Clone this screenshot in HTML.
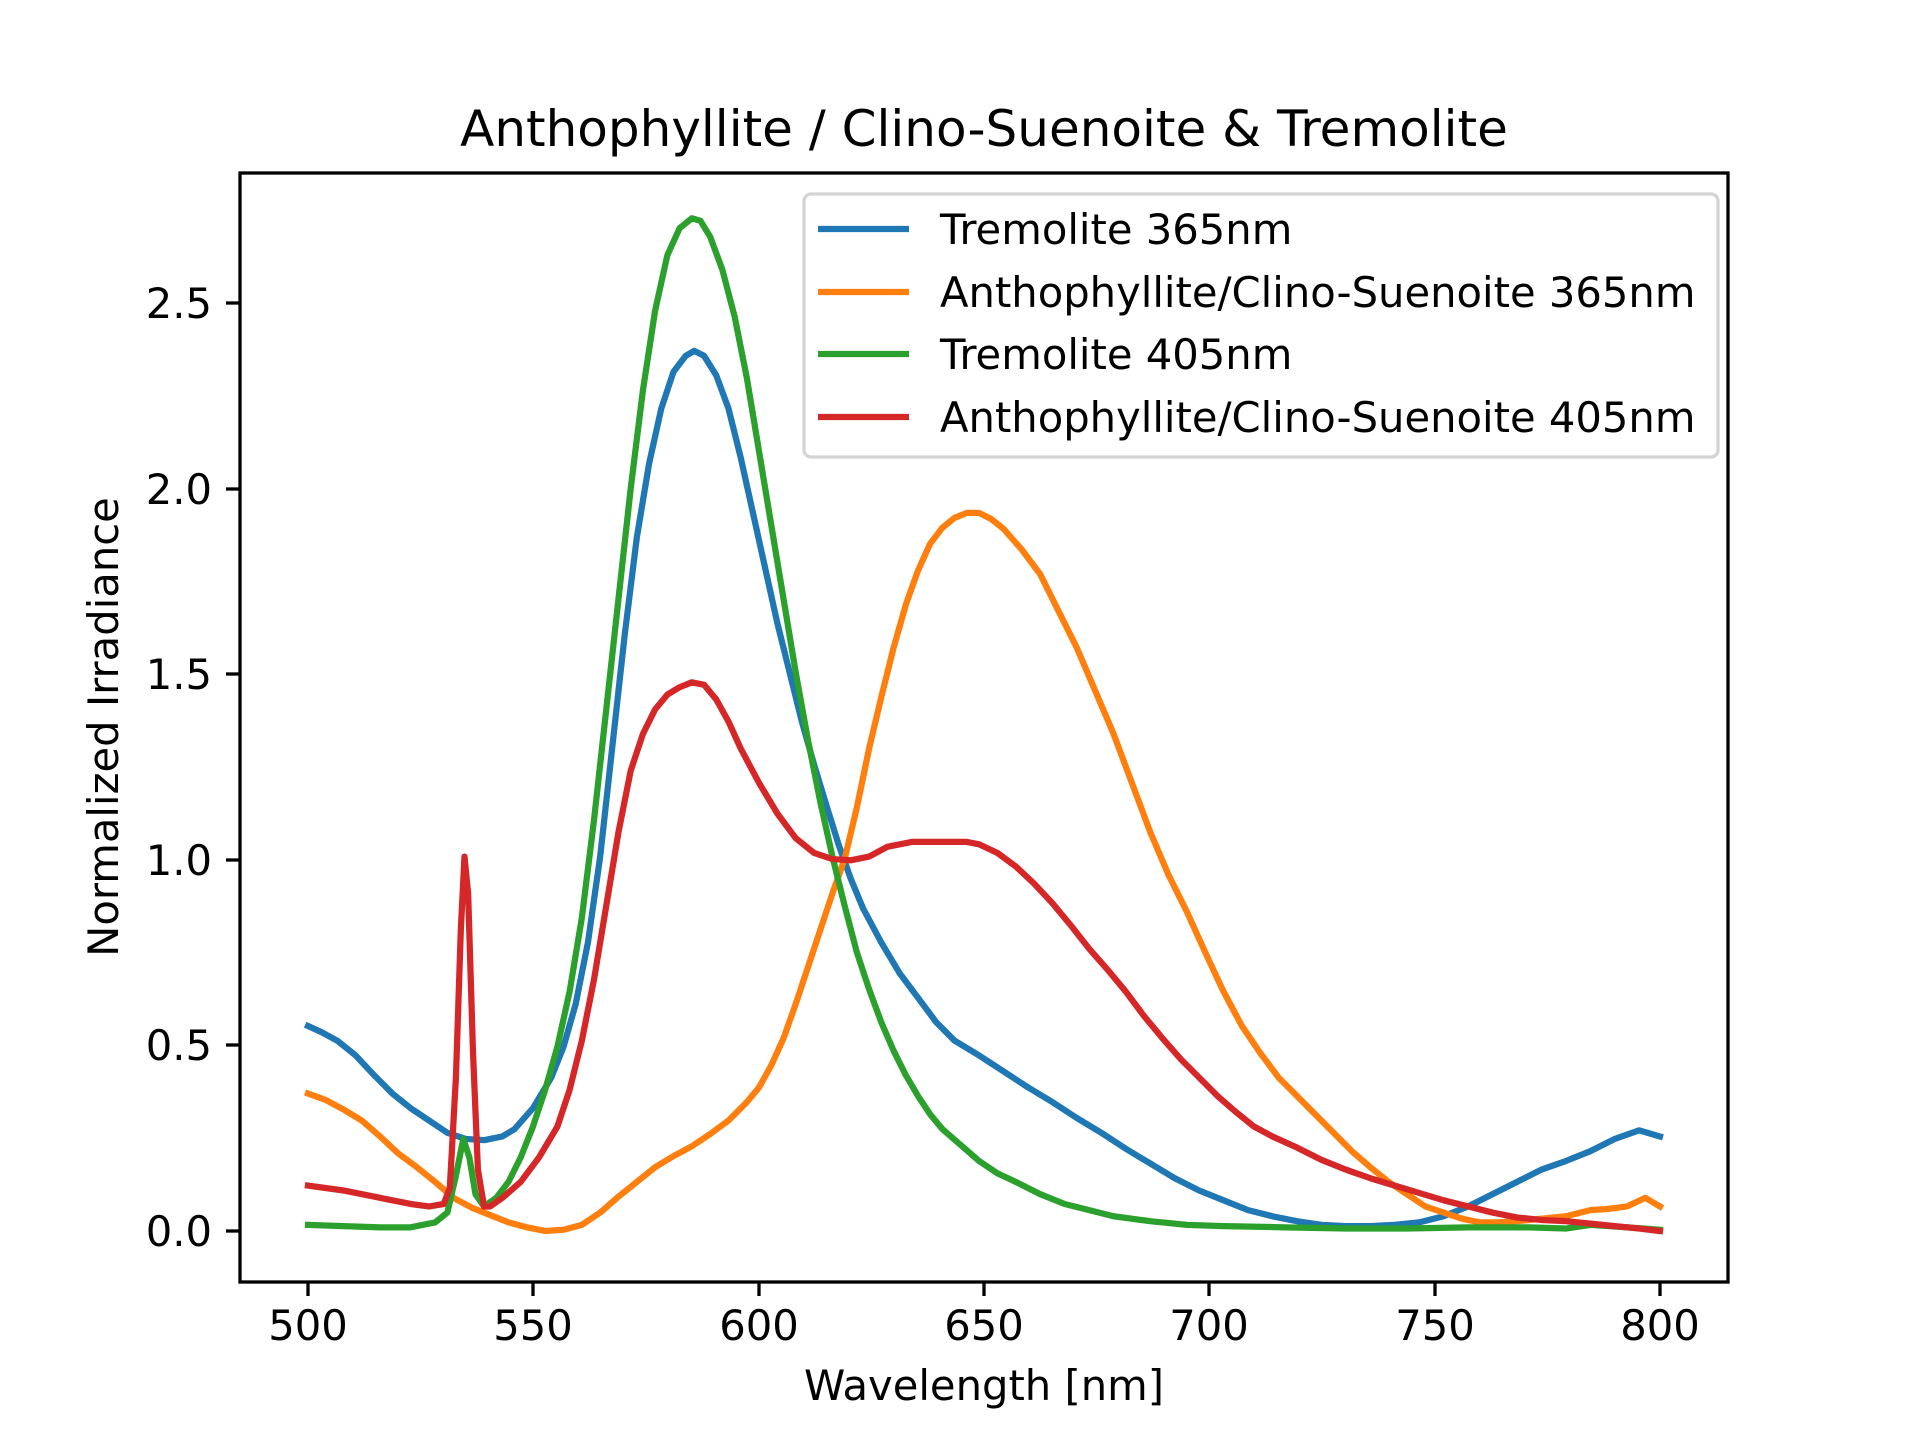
<!DOCTYPE html>
<html><head><meta charset="utf-8"><style>html,body{margin:0;padding:0;background:#fff}</style></head>
<body>
<svg width="1920" height="1440" viewBox="0 0 1920 1440" xmlns="http://www.w3.org/2000/svg" font-family="'DejaVu Sans','Liberation Sans',sans-serif">
<rect width="1920" height="1440" fill="#fff"/>
<g fill="none" stroke-width="6.25" stroke-linejoin="round" stroke-linecap="square">
<g transform="matrix(1.2224 0 0 1.2275 1.18 -2.64)">
<polyline vector-effect="non-scaling-stroke" stroke="#1f77b4" points="251,838 262,843 275,850 290,862 305,878 320,893 335,905 350,915 365,925 380,930 395,931 410,928 420,922 435,905 450,880 460,855 470,820 480,770 490,700 500,610 510,520 520,440 530,380 540,335 550,305 560,292 567,288 575,292 585,308 595,335 605,375 615,420 625,465 635,510 645,550 655,590 665,625 675,658 685,690 695,718 705,742 720,770 735,795 750,815 765,835 780,850 800,862 820,875 840,888 860,900 880,913 900,925 920,938 940,950 960,962 980,972 1000,980 1020,988 1040,993 1060,997 1080,1000 1100,1001 1120,1001 1140,1000 1160,998 1180,993 1200,985 1220,975 1240,965 1260,955 1280,948 1300,940 1320,930 1340,923 1357,928"/>
<polyline vector-effect="non-scaling-stroke" stroke="#ff7f0e" points="251,893 265,898 280,906 295,915 310,928 325,942 340,953 355,965 370,978 385,986 400,992 415,998 430,1002 445,1005 460,1004 475,1000 490,990 505,977 520,965 535,953 550,944 565,936 580,926 595,915 610,900 620,888 630,870 640,848 650,820 660,790 670,760 680,730 690,702 700,660 710,612 720,570 730,530 740,495 750,467 760,445 770,432 780,424 790,420 800,420 810,425 820,433 835,450 850,470 865,500 880,530 895,565 910,600 925,640 940,680 955,715 970,745 985,778 1000,810 1015,838 1030,860 1045,880 1060,895 1075,910 1090,925 1105,940 1120,953 1135,965 1150,975 1165,985 1180,990 1195,995 1210,998 1225,998 1240,997 1260,995 1280,993 1300,988 1315,987 1330,985 1345,978 1357,985"/>
<polyline vector-effect="non-scaling-stroke" stroke="#2ca02c" points="251,1000 280,1001 310,1002 335,1002 345,1000 355,998 365,990 372,960 378,930 383,945 388,975 395,985 405,978 415,965 425,945 435,920 445,890 455,855 465,810 475,750 485,670 495,580 505,490 515,400 525,320 535,255 545,210 555,188 565,180 572,182 580,195 590,222 600,260 610,310 620,370 630,430 640,490 650,550 660,605 670,655 680,700 690,740 700,778 710,808 720,835 730,858 740,878 750,895 760,910 770,922 785,935 800,948 815,958 830,965 850,975 870,983 890,988 910,993 940,997 970,1000 1000,1001 1050,1002 1100,1003 1150,1003 1200,1002 1250,1002 1280,1003 1300,1000 1330,1002 1357,1004"/>
<polyline vector-effect="non-scaling-stroke" stroke="#d62728" points="251,968 280,972 310,978 335,983 350,985 362,983 367,970 372,880 376,760 379,700 382,730 386,860 390,955 395,985 400,985 410,978 425,965 440,945 455,920 465,890 475,850 485,800 495,740 505,680 515,630 525,600 535,580 545,568 555,562 565,558 575,560 585,572 595,590 605,612 620,640 635,665 650,685 665,697 680,702 695,703 710,700 725,692 745,688 770,688 790,688 800,690 815,697 830,708 845,722 860,738 875,756 890,775 905,792 920,810 935,830 950,848 965,865 980,880 995,895 1010,908 1025,920 1040,928 1060,937 1080,947 1100,955 1120,962 1140,968 1160,974 1180,980 1200,985 1220,990 1240,994 1260,996 1280,997 1300,999 1320,1001 1340,1003 1357,1005"/>
</g>
</g>
<rect x="240" y="173" width="1488" height="1109" fill="none" stroke="#000" stroke-width="3.3"/>
<g stroke="#000" stroke-width="3.3">
<line x1="308" y1="1282" x2="308" y2="1296"/><line x1="533" y1="1282" x2="533" y2="1296"/><line x1="759" y1="1282" x2="759" y2="1296"/><line x1="984" y1="1282" x2="984" y2="1296"/><line x1="1209" y1="1282" x2="1209" y2="1296"/><line x1="1435" y1="1282" x2="1435" y2="1296"/><line x1="1660" y1="1282" x2="1660" y2="1296"/>
<line x1="226" y1="1231" x2="240" y2="1231"/><line x1="226" y1="1045" x2="240" y2="1045"/><line x1="226" y1="860" x2="240" y2="860"/><line x1="226" y1="674" x2="240" y2="674"/><line x1="226" y1="489" x2="240" y2="489"/><line x1="226" y1="303" x2="240" y2="303"/>
</g>
<g font-size="41.7" fill="#000" text-anchor="middle">
<text x="308" y="1340">500</text><text x="533" y="1340">550</text><text x="759" y="1340">600</text><text x="984" y="1340">650</text><text x="1209" y="1340">700</text><text x="1435" y="1340">750</text><text x="1660" y="1340">800</text>
</g>
<g font-size="41.7" fill="#000" text-anchor="end">
<text x="212" y="1246">0.0</text><text x="212" y="1060">0.5</text><text x="212" y="875">1.0</text><text x="212" y="689">1.5</text><text x="212" y="504">2.0</text><text x="212" y="318">2.5</text>
</g>
<text x="984" y="1400" font-size="41.7" text-anchor="middle">Wavelength [nm]</text>
<text transform="translate(118,727) rotate(-90)" font-size="41.7" text-anchor="middle">Normalized Irradiance</text>
<text x="984" y="146" font-size="50" text-anchor="middle">Anthophyllite / Clino-Suenoite &amp; Tremolite</text>
<rect x="804" y="194" width="914" height="263" rx="7" fill="#fff" fill-opacity="0.8" stroke="#d4d4d4" stroke-width="3.3"/>
<g stroke-width="6.25">
<line x1="818" y1="229" x2="909" y2="229" stroke="#1f77b4"/>
<line x1="818" y1="292" x2="909" y2="292" stroke="#ff7f0e"/>
<line x1="818" y1="354" x2="909" y2="354" stroke="#2ca02c"/>
<line x1="818" y1="417" x2="909" y2="417" stroke="#d62728"/>
</g>
<g font-size="41.7" fill="#000">
<text x="940" y="244">Tremolite 365nm</text>
<text x="940" y="307">Anthophyllite/Clino-Suenoite 365nm</text>
<text x="940" y="369">Tremolite 405nm</text>
<text x="940" y="432">Anthophyllite/Clino-Suenoite 405nm</text>
</g>
</svg>
</body></html>
